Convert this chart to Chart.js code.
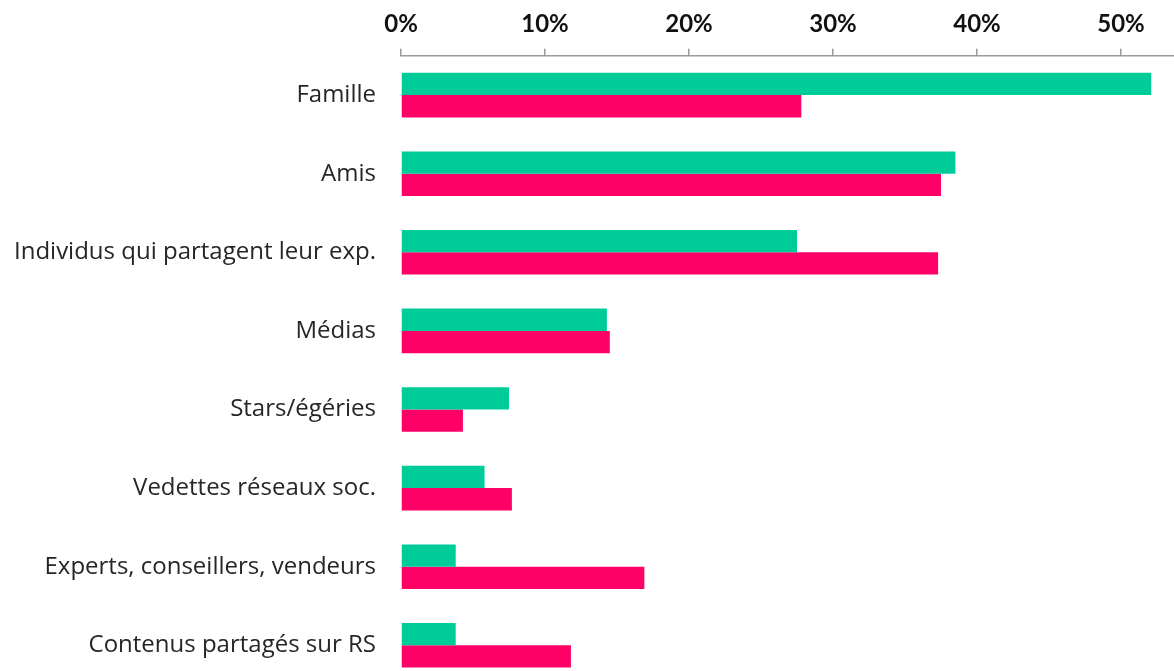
<!DOCTYPE html>
<html>
<head>
<meta charset="utf-8">
<script src="https://cdn.jsdelivr.net/npm/chart.js@4"></script>
<style>
  html, body { margin: 0; padding: 0; background: #fff; overflow: hidden; }
  canvas { display: block; }
</style>
</head>
<body>
<canvas id="chart" width="1200" height="724"></canvas>
<script>
// donnees (en %)
const categories = [
  'Famille',
  'Amis',
  'Individus qui partagent leur exp.',
  'Médias',
  'Stars/égéries',
  'Vedettes réseaux soc.',
  'Experts, conseillers, vendeurs',
  'Contenus partagés sur RS',
];
const serieVerte = [52.1, 38.5, 27.5, 14.3, 7.5, 5.8, 3.8, 3.8];
const serieRose = [27.8, 37.5, 37.3, 14.5, 4.3, 7.7, 16.9, 11.8];
const tickValues = [0, 10, 20, 30, 40, 50];

const ctx = document.querySelector('#chart').getContext('2d');

const chart = new Chart(ctx, {
  type: 'bar',
  data: {
    labels: categories,
    datasets: [{
      label: 'Série 1',
      data: serieVerte,
      backgroundColor: '#00CC99',
    }, {
      label: 'Série 2',
      data: serieRose,
      backgroundColor: '#FF0066',
    }],
  },
  options: {
    indexAxis: 'y',
    responsive: false,
    animation: false,
    layout: { padding: { top: 0, bottom: 0, right: 7 } },
    datasets: {
      bar: { barPercentage: 1, categoryPercentage: 0.567 },
    },
    plugins: {
      legend: { display: false },
      tooltip: { enabled: false },
    },
    scales: {
      x: {
        position: 'top',
        min: 0,
        max: 55,
        afterBuildTicks: (scale) => {
          scale.ticks = tickValues.map((v) => ({ value: v }));
        },
        ticks: {
          padding: 10,
          color: '#111',
          font: { family: 'Lato', size: 24, weight: 'bold' },
          callback: (v) => `${v}%`,
          maxRotation: 0,
        },
        grid: {
          drawOnChartArea: false,
          tickLength: 7,
          color: '#9a9a9a',
          lineWidth: 1.5,
        },
        border: { color: '#9a9a9a', width: 1.5 },
      },
      y: {
        afterFit: (scale) => { scale.width = 401; },
        ticks: {
          padding: 25,
          color: '#262626',
          font: { family: 'Open Sans', size: 24 },
        },
        grid: { display: false, drawTicks: false },
        border: { display: false },
      },
    },
  },
});
</script>
</body>
</html>
